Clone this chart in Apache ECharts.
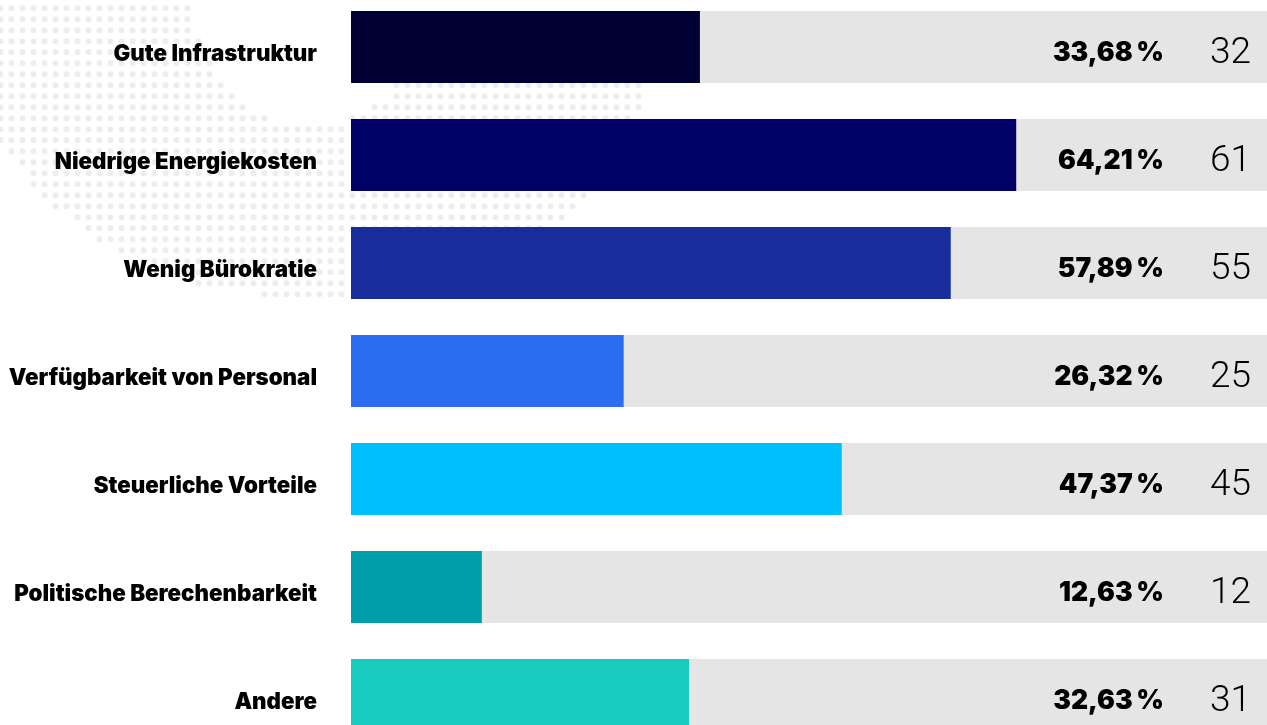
<!DOCTYPE html>
<html lang="de">
<head>
<meta charset="utf-8">
<title>Standortfaktoren</title>
<style>
  html, body { margin: 0; padding: 0; background: #ffffff; overflow: hidden; }
  #chart { width: 1267px; height: 725px; }
</style>
<script src="https://cdn.jsdelivr.net/npm/echarts@6/dist/echarts.min.js"></script>
</head>
<body>
<div id="chart"></div>
<script>
// Survey answers
const categories = [
  'Gute Infrastruktur', 'Niedrige Energiekosten', 'Wenig Bürokratie',
  'Verfügbarkeit von Personal', 'Steuerliche Vorteile',
  'Politische Berechenbarkeit', 'Andere'
];
const shares = [33.68, 64.21, 57.89, 26.32, 47.37, 12.63, 32.63];
const counts = [32, 61, 55, 25, 45, 12, 31];
const colors = ['#000033', '#000066', '#182c9b', '#2b6cf0', '#00bfff', '#009dab', '#19ccc0'];

// Dotted backdrop: column spans per row of the dot raster, [row, first, last]
const dotSpans = [
  [0, 0, 32], [1, 0, 17], [2, 0, 17], [3, 0, 17], [4, 0, 18], [5, 0, 18], [6, 0, 19], [7, 0, 19],
  [8, 0, 20], [8, 36, 58], [9, 0, 21], [9, 36, 58], [10, 0, 22], [10, 34, 58],
  [11, 0, 24], [11, 32, 57], [12, 0, 31], [13, 0, 31], [14, 1, 31], [15, 2, 31], [16, 3, 31],
  [17, 3, 31], [18, 4, 53], [19, 5, 52], [20, 7, 51], [21, 8, 49], [22, 9, 31],
  [23, 11, 31], [24, 13, 31], [25, 16, 31], [26, 18, 31], [27, 24, 31]
];
const dots = [];
dotSpans.forEach(([row, first, last]) => {
  for (let col = first; col <= last; col++) dots.push([col, row]);
});

const percentText = v => v.toFixed(2).replace('.', ',') + '\u2009%';
const fullScale = categories.map(() => 100);

const chart = echarts.init(document.getElementById('chart'), null, { renderer: 'canvas' });
chart.setOption({
  animation: false,
  backgroundColor: '#ffffff',
  grid: [
    // The 0–100 % scale runs past the right page edge
    { left: 351, top: -7, width: 1036, height: 756, outerBoundsMode: 'none' },
    { left: 0, top: 0, width: 1267, height: 725, outerBoundsMode: 'none' }
  ],
  xAxis: [
    { gridIndex: 0, type: 'value', min: 0, max: 100, show: false },
    { gridIndex: 1, type: 'value', min: -0.045, max: 115.14, show: false }
  ],
  yAxis: [
    {
      gridIndex: 0, type: 'category', inverse: true, data: categories,
      axisLine: { show: false }, axisTick: { show: false }, splitLine: { show: false },
      axisLabel: {
        margin: 34, align: 'right', verticalAlign: 'top', lineHeight: 14,
        color: '#000000', fontFamily: 'Inter', fontWeight: 900, fontSize: 22.3
      },
      z: 5
    },
    { gridIndex: 1, type: 'value', inverse: true, min: 0.245, max: 66.155, show: false }
  ],
  series: [
    {
      name: 'Raster', type: 'scatter', xAxisIndex: 1, yAxisIndex: 1, data: dots,
      symbol: 'circle', symbolSize: 6, silent: true, z: 1,
      itemStyle: { color: '#e8e8e8' }
    },
    {
      // Grey track, carries the percentage column
      name: 'Gesamt', type: 'bar', xAxisIndex: 0, yAxisIndex: 0,
      data: fullScale, barWidth: 72, barGap: '-100%', z: 2, silent: true,
      itemStyle: { color: '#e5e5e5' },
      label: {
        show: true, position: 'insideRight', distance: 223, offset: [0, 6],
        formatter: p => percentText(shares[p.dataIndex]),
        fontFamily: 'Inter', fontWeight: 900, fontSize: 26.5, color: '#000000'
      }
    },
    {
      // Transparent copy of the track, carries the count column
      name: 'Anzahl', type: 'bar', xAxisIndex: 0, yAxisIndex: 0,
      data: fullScale, barWidth: 72, z: 2, silent: true,
      itemStyle: { color: 'transparent' },
      label: {
        show: true, position: 'insideRight', distance: 136, offset: [0, 7],
        formatter: p => String(counts[p.dataIndex]),
        fontFamily: 'Roboto', fontWeight: 300, fontSize: 37, color: '#000000'
      }
    },
    {
      name: 'Anteil', type: 'bar', xAxisIndex: 0, yAxisIndex: 0,
      data: shares.map((v, i) => ({ value: v, itemStyle: { color: colors[i] } })),
      barWidth: 72, z: 3, silent: true
    }
  ]
});
</script>
</body>
</html>
